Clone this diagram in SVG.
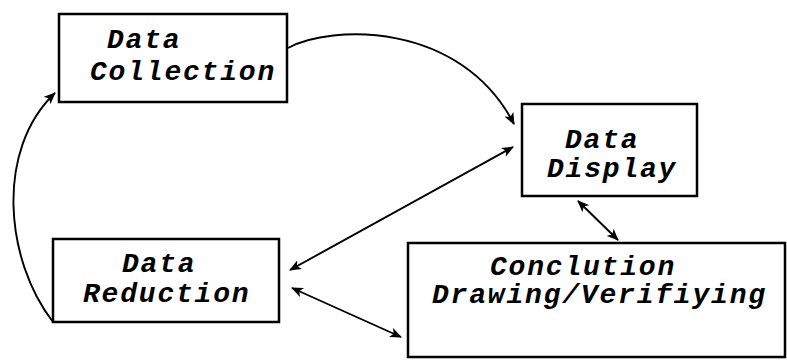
<svg xmlns="http://www.w3.org/2000/svg" width="787" height="362" viewBox="0 0 787 362">
<style>
.box{fill:#fff;stroke:#000;stroke-width:2.5}
.lbl{font-family:"Liberation Mono","DejaVu Sans Mono",monospace;font-style:italic;font-weight:bold;font-size:28px;letter-spacing:1.8px;fill:#000}
.con{fill:none;stroke:#000;stroke-width:1.9}
</style>
<defs>
<marker id="ah" viewBox="0 0 12 10" refX="11" refY="5" markerWidth="12" markerHeight="10" markerUnits="userSpaceOnUse" orient="auto-start-reverse">
<path d="M0,0 L12,5 L0,10 L3,5 Z" fill="#000"/>
</marker>
</defs>
<rect width="787" height="362" fill="#fff"/>
<g id="connectors">
<path class="con" d="M288,48 C330,25 460,20 514,124" marker-end="url(#ah)"/>
<path class="con" d="M53,322 C5,260 -5,150 55,93" marker-end="url(#ah)"/>
<line class="con" x1="290" y1="270" x2="513" y2="147" marker-start="url(#ah)" marker-end="url(#ah)"/>
<line class="con" x1="292" y1="288" x2="401" y2="337" marker-start="url(#ah)" marker-end="url(#ah)"/>
<line class="con" x1="578" y1="201" x2="618" y2="240" marker-start="url(#ah)" marker-end="url(#ah)"/>
</g>
<g id="data-collection">
<rect class="box" x="59" y="14" width="228" height="88"/>
<text class="lbl" x="107" y="48">Data</text>
<text class="lbl" x="90" y="80">Collection</text>
</g>
<g id="data-display">
<rect class="box" x="522" y="104" width="175" height="92"/>
<text class="lbl" x="565" y="148">Data</text>
<text class="lbl" x="547" y="177">Display</text>
</g>
<g id="data-reduction">
<rect class="box" x="53" y="239" width="226" height="83"/>
<text class="lbl" x="122" y="272">Data</text>
<text class="lbl" x="83" y="302">Reduction</text>
</g>
<g id="conclusion">
<rect class="box" x="408" y="243" width="377" height="114"/>
<text class="lbl" x="490" y="275">Conclution</text>
<text class="lbl" x="432" y="303">Drawing/Verifiying</text>
</g>
</svg>
